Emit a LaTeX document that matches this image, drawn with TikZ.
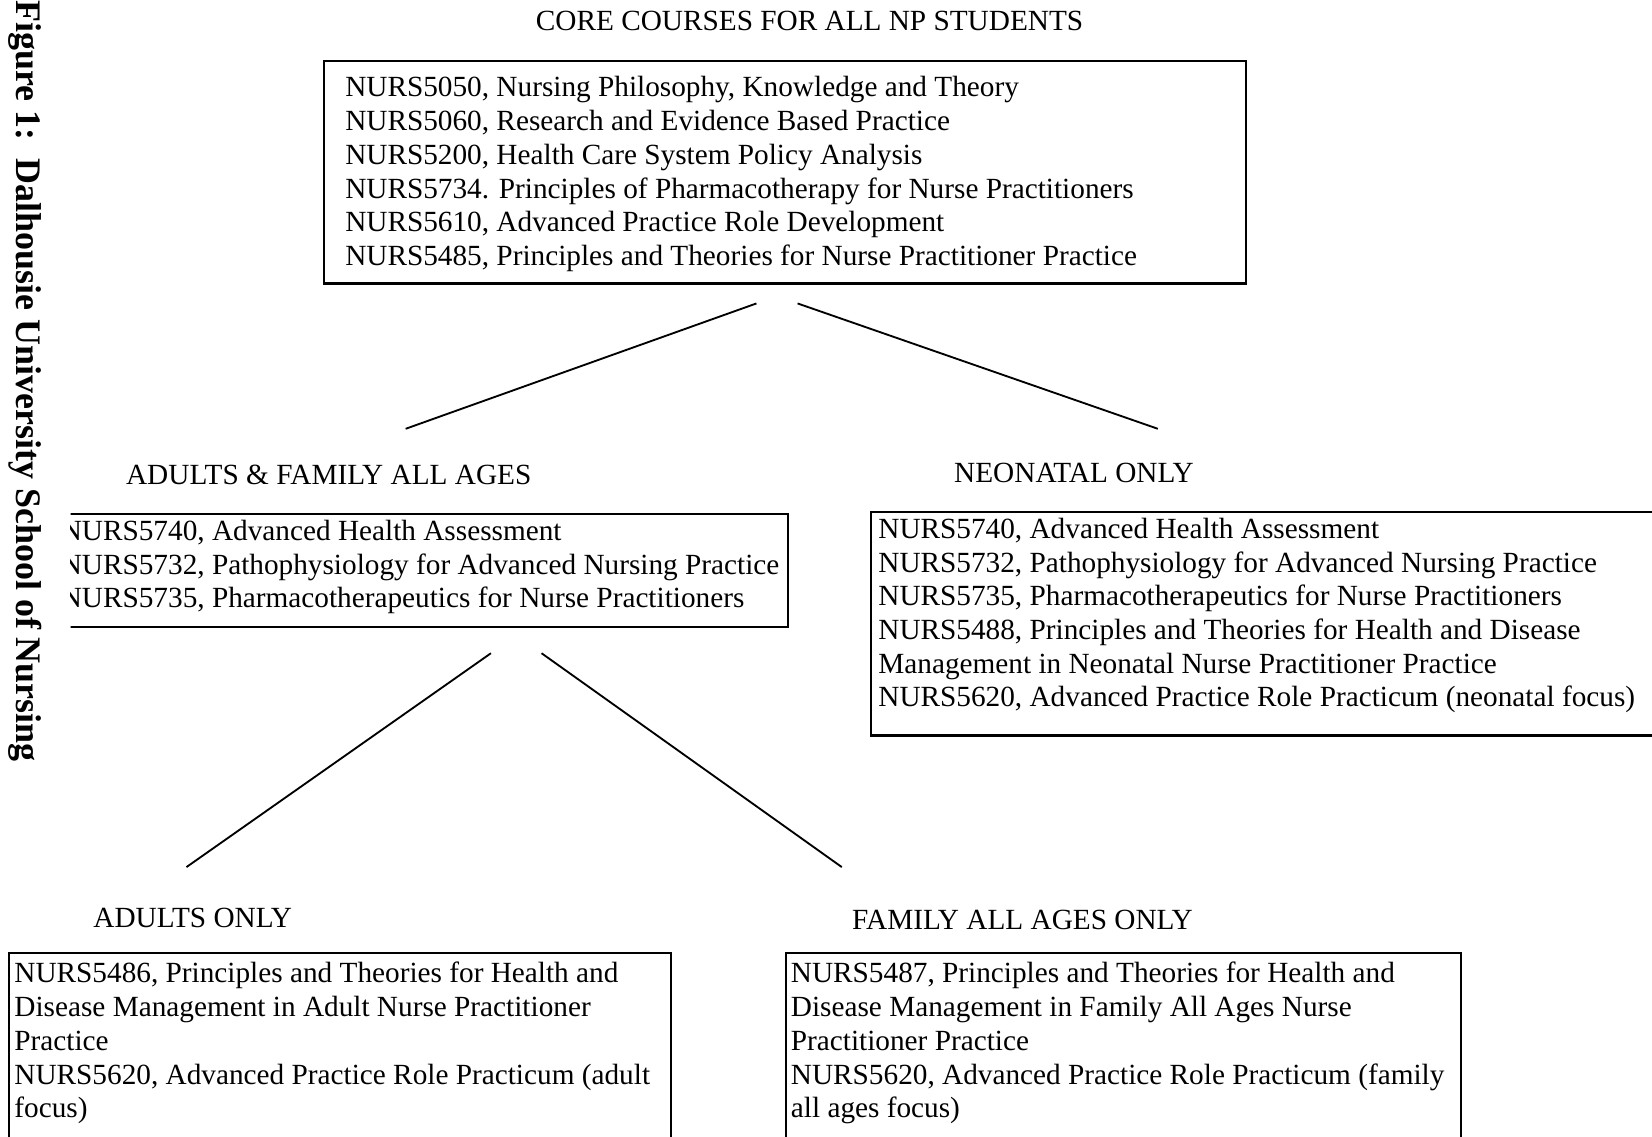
\documentclass[tikz,border=0pt]{standalone}
\usepackage{fontspec}
\setmainfont{Liberation Serif}
\usepackage{tikz}
\tikzset{course/.style={draw, line width=0.55pt, anchor=north west, inner sep=0pt},
courselist/.style={anchor=base west, align=left, inner sep=0pt, font=\fontsize{7.9}{9.1}\selectfont},
heading/.style={anchor=base west, inner sep=0pt, font=\fontsize{7.9}{9.1}\selectfont},
link/.style={line width=0.5pt}}

\begin{document}
\begin{tikzpicture}[x=0.01cm,y=-0.01cm]
   \useasboundingbox (0,0) rectangle (1568,1079);
   \clip (0,0) rectangle (1568,1079);
   \node[rotate=-90, anchor=base west, inner sep=0pt, font=\bfseries\fontsize{9.7}{11}\selectfont] (figcap) at (16,0) {Figure 1:\ \ Dalhousie University School of Nursing};
   \node[heading] (corehead) at (508,29) {CORE COURSES FOR ALL NP STUDENTS};
   \node[course, minimum width=8.74cm, minimum height=2.11cm] (core) at (307,57) {};
   \node[courselist] (corelist) at (327,252) {NURS5050, Nursing Philosophy, Knowledge and Theory\\
     NURS5060, Research and Evidence Based Practice\\
     NURS5200, Health Care System Policy Analysis\\
     NURS5734. Principles of Pharmacotherapy for Nurse Practitioners\\
     NURS5610, Advanced Practice Role Development\\
     NURS5485, Principles and Theories for Nurse Practitioner Practice};
   \coordinate (core-a) at (718,288);
   \coordinate (core-b) at (757,288);
   \coordinate (pair-top) at (385,407);
   \coordinate (neo-top) at (1099,407);
   \draw[link] (core-a) -- (pair-top);
   \draw[link] (core-b) -- (neo-top);
   \node[heading] (pairhead) at (119,460) {ADULTS \& FAMILY ALL AGES};
   \node[heading] (neohead) at (905,458) {NEONATAL ONLY};
   \begin{scope}
     \clip (67,470) rectangle (800,620);
     \node[course, minimum width=7.10cm, minimum height=1.07cm] (pair) at (37,487) {};
     \node[courselist] (pairlist) at (57,577) {NURS5740, Advanced Health Assessment\\
       NURS5732, Pathophysiology for Advanced Nursing Practice\\
       NURS5735, Pharmacotherapeutics for Nurse Practitioners};
   \end{scope}
   \node[course, minimum width=8.34cm, minimum height=2.12cm] (neo) at (826,485) {};
   \node[courselist] (neolist) at (833,671) {NURS5740, Advanced Health Assessment\\
     NURS5732, Pathophysiology for Advanced Nursing Practice\\
     NURS5735, Pharmacotherapeutics for Nurse Practitioners\\
     NURS5488, Principles and Theories for Health and Disease\\
     Management in Neonatal Nurse Practitioner Practice\\
     NURS5620, Advanced Practice Role Practicum (neonatal focus)};
   \coordinate (pair-a) at (466,620);
   \coordinate (pair-b) at (514,620);
   \coordinate (adult-top) at (177,823);
   \coordinate (family-top) at (799,823);
   \draw[link] (pair-a) -- (adult-top);
   \draw[link] (pair-b) -- (family-top);
   \node[heading] (adulthead) at (88,880) {ADULTS ONLY};
   \node[heading] (familyhead) at (808,882) {FAMILY ALL AGES ONLY};
   \node[course, minimum width=6.28cm, minimum height=1.86cm] (adult) at (8,904) {};
   \node[courselist] (adultlist) at (13,1061) {NURS5486, Principles and Theories for Health and\\
     Disease Management in Adult Nurse Practitioner\\
     Practice\\
     NURS5620, Advanced Practice Role Practicum (adult\\
     focus)};
   \node[course, minimum width=6.40cm, minimum height=1.86cm] (family) at (745,904) {};
   \node[courselist] (familylist) at (750,1061) {NURS5487, Principles and Theories for Health and\\
     Disease Management in Family All Ages Nurse\\
     Practitioner Practice\\
     NURS5620, Advanced Practice Role Practicum (family\\
     all ages focus)};
\end{tikzpicture}
\end{document}
